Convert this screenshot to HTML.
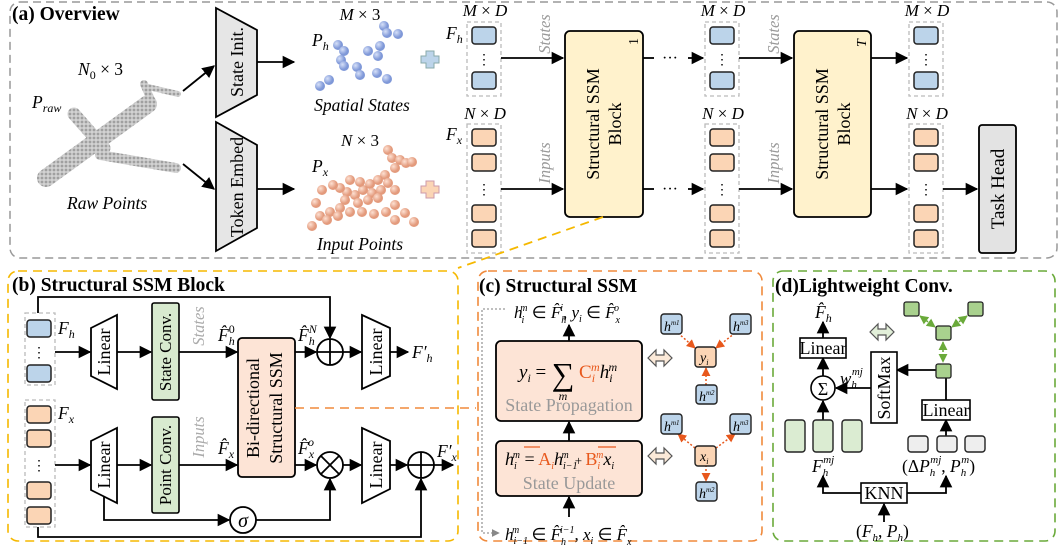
<!DOCTYPE html>
<html><head><meta charset="utf-8"><style>
html,body{margin:0;padding:0;background:#fff;}
svg{display:block;}
text{font-family:"Liberation Serif",serif;}
.i{font-style:italic;}
.b{font-weight:bold;}
</style></head><body>
<svg width="1061" height="547" viewBox="0 0 1061 547" xmlns="http://www.w3.org/2000/svg">
<defs>
<marker id="ar" viewBox="0 0 10 10" refX="9" refY="5" markerWidth="7" markerHeight="7" orient="auto"><path d="M0,0 L10,5 L0,10 z" fill="#000"/></marker>
<marker id="ao" viewBox="0 0 10 10" refX="9" refY="5" markerWidth="6" markerHeight="6" orient="auto-start-reverse"><path d="M0,0 L10,5 L0,10 z" fill="#e8581c"/></marker>
<marker id="ag" viewBox="0 0 10 10" refX="9" refY="5" markerWidth="6" markerHeight="6" orient="auto-start-reverse"><path d="M0,0 L10,5 L0,10 z" fill="#6aaa3a"/></marker>
<marker id="agr" viewBox="0 0 10 10" refX="9" refY="5" markerWidth="6" markerHeight="6" orient="auto"><path d="M0,0 L10,5 L0,10 z" fill="#888"/></marker>
<pattern id="dp" width="4" height="4" patternUnits="userSpaceOnUse"><rect width="4" height="4" fill="#d2d2d2"/><circle cx="2" cy="2" r="1.4" fill="#a0a0a0"/></pattern>
<radialGradient id="bd" cx="0.35" cy="0.35"><stop offset="0" stop-color="#d6e0f8"/><stop offset="1" stop-color="#7f98d8"/></radialGradient>
<radialGradient id="od" cx="0.35" cy="0.35"><stop offset="0" stop-color="#fde0d2"/><stop offset="1" stop-color="#e39a7c"/></radialGradient>
</defs>

<!-- Panel a -->
<rect x="10" y="2" width="1047" height="256" rx="10" fill="none" stroke="#999" stroke-width="1.5" stroke-dasharray="8,5"/>
<text x="12" y="20" font-size="19.5" class="b">(a) Overview</text>

<!-- airplane -->
<g stroke="url(#dp)" stroke-linecap="round" fill="none">
<line x1="46" y1="178" x2="148" y2="104" stroke-width="18"/>
<line x1="74" y1="114" x2="104" y2="148" stroke-width="13"/>
<line x1="100" y1="155" x2="176" y2="168" stroke-width="10"/>
<line x1="144" y1="84" x2="152" y2="102" stroke-width="8"/>
<line x1="148" y1="87" x2="178" y2="94" stroke-width="6"/>
</g>
<text x="78" y="75" font-size="17.5" class="i">N<tspan font-size="12" dy="4" font-style="normal">0</tspan><tspan dy="-4" font-style="normal"> × 3</tspan></text>
<text x="32" y="108" font-size="17.5" class="i">P<tspan font-size="12" dy="4">raw</tspan></text>
<text x="67" y="209" font-size="17.5" class="i">Raw Points</text>
<line x1="183" y1="91" x2="214" y2="66" stroke="#000" stroke-width="1.8" marker-end="url(#ar)"/>
<line x1="183" y1="164" x2="214" y2="189" stroke="#000" stroke-width="1.8" marker-end="url(#ar)"/>

<polygon points="216,8 257,30 257,95 216,117" fill="#e6e6e6" stroke="#000" stroke-width="1.8"/>
<text transform="translate(243,62) rotate(-90)" text-anchor="middle" font-size="18">State Init.</text>
<polygon points="216,122 257,145 257,228 216,251" fill="#e6e6e6" stroke="#000" stroke-width="1.8"/>
<text transform="translate(243,187) rotate(-90)" text-anchor="middle" font-size="18">Token Embed</text>
<line x1="257" y1="62" x2="294" y2="62" stroke="#000" stroke-width="1.8" marker-end="url(#ar)"/>
<line x1="257" y1="189" x2="294" y2="189" stroke="#000" stroke-width="1.8" marker-end="url(#ar)"/>

<!-- blue points -->
<g fill="url(#bd)">
<circle cx="384" cy="26" r="5"/><circle cx="387" cy="33" r="5"/><circle cx="398" cy="34" r="5"/><circle cx="338" cy="45" r="5"/><circle cx="344" cy="51" r="5"/><circle cx="341" cy="60" r="5"/><circle cx="368" cy="51" r="5"/><circle cx="380" cy="46" r="5"/><circle cx="378" cy="56" r="5"/><circle cx="344" cy="66" r="5"/><circle cx="357" cy="67" r="5"/><circle cx="360" cy="75" r="5"/><circle cx="377" cy="73" r="5"/><circle cx="387" cy="79" r="5"/><circle cx="329" cy="80" r="5"/><circle cx="320" cy="86" r="5"/></g>
<text x="360" y="20" font-size="17" text-anchor="middle" class="i">M<tspan font-style="normal"> × 3</tspan></text>
<text x="312" y="46" font-size="17.5" class="i">P<tspan font-size="12" dy="4">h</tspan></text>
<text x="362" y="111" font-size="17.5" text-anchor="middle" class="i">Spatial States</text>
<!-- orange points -->
<g fill="url(#od)">
<circle cx="388" cy="150" r="5"/><circle cx="392" cy="158" r="5"/><circle cx="400" cy="160" r="5"/><circle cx="406" cy="163" r="5"/><circle cx="412" cy="162" r="5"/><circle cx="395" cy="168" r="5"/><circle cx="385" cy="175" r="5"/><circle cx="378" cy="180" r="5"/><circle cx="370" cy="184" r="5"/><circle cx="388" cy="183" r="5"/><circle cx="381" cy="190" r="5"/><circle cx="372" cy="193" r="5"/><circle cx="363" cy="190" r="5"/><circle cx="355" cy="195" r="5"/><circle cx="347" cy="192" r="5"/><circle cx="340" cy="188" r="5"/><circle cx="333" cy="185" r="5"/><circle cx="322" cy="190" r="5"/><circle cx="345" cy="200" r="5"/><circle cx="358" cy="203" r="5"/><circle cx="368" cy="200" r="5"/><circle cx="378" cy="198" r="5"/><circle cx="340" cy="208" r="5"/><circle cx="330" cy="212" r="5"/><circle cx="320" cy="216" r="5"/><circle cx="327" cy="220" r="5"/><circle cx="338" cy="216" r="5"/><circle cx="350" cy="212" r="5"/><circle cx="362" cy="212" r="5"/><circle cx="374" cy="214" r="5"/><circle cx="386" cy="212" r="5"/><circle cx="395" cy="205" r="5"/><circle cx="405" cy="213" r="5"/><circle cx="414" cy="222" r="5"/><circle cx="395" cy="190" r="5"/><circle cx="312" cy="226" r="5"/><circle cx="350" cy="180" r="5"/><circle cx="360" cy="182" r="5"/><circle cx="316" cy="203" r="5"/><circle cx="395" cy="220" r="5"/></g>
<text x="360" y="146" font-size="17" text-anchor="middle" class="i">N<tspan font-style="normal"> × 3</tspan></text>
<text x="312" y="172" font-size="17.5" class="i">P<tspan font-size="12" dy="4">x</tspan></text>
<text x="360" y="250" font-size="17.5" text-anchor="middle" class="i">Input Points</text>
<!-- plus signs -->
<path d="M427,55 h8 v5 h5 v7 h-5 v5 h-8 v-5 h-5 v-7 h5 z" transform="translate(-1,-4)" fill="#bcd4ea" stroke="#8aa" stroke-width="1"/>
<path d="M427,55 h8 v5 h5 v7 h-5 v5 h-8 v-5 h-5 v-7 h5 z" transform="translate(-1,126)" fill="#fbd5b5" stroke="#c9a" stroke-width="1"/>

<!-- columns -->
<g stroke="#bbb" stroke-width="1.3" stroke-dasharray="4,3" fill="none">
<rect x="467" y="22" width="34" height="74"/><rect x="467" y="124" width="34" height="129"/>
<rect x="705" y="22" width="34" height="74"/><rect x="705" y="124" width="34" height="129"/>
<rect x="909" y="22" width="34" height="74"/><rect x="909" y="124" width="34" height="129"/>
</g>
<g stroke="#222" stroke-width="1.5">
<g fill="#bcd4ea">
<rect x="472" y="27" width="24" height="17" rx="3"/><rect x="472" y="72" width="24" height="17" rx="3"/>
<rect x="710" y="27" width="24" height="17" rx="3"/><rect x="710" y="72" width="24" height="17" rx="3"/>
<rect x="914" y="27" width="24" height="17" rx="3"/><rect x="914" y="72" width="24" height="17" rx="3"/>
</g>
<g fill="#fbd5b5">
<rect x="472" y="129" width="24" height="17" rx="3"/><rect x="472" y="154" width="24" height="17" rx="3"/><rect x="472" y="205" width="24" height="17" rx="3"/><rect x="472" y="230" width="24" height="17" rx="3"/>
<rect x="710" y="129" width="24" height="17" rx="3"/><rect x="710" y="154" width="24" height="17" rx="3"/><rect x="710" y="205" width="24" height="17" rx="3"/><rect x="710" y="230" width="24" height="17" rx="3"/>
<rect x="914" y="129" width="24" height="17" rx="3"/><rect x="914" y="154" width="24" height="17" rx="3"/><rect x="914" y="205" width="24" height="17" rx="3"/><rect x="914" y="230" width="24" height="17" rx="3"/>
</g></g>
<g font-size="14" text-anchor="middle">
<text x="484" y="64">⋮</text><text x="484" y="194">⋮</text>
<text x="722" y="64">⋮</text><text x="722" y="194">⋮</text>
<text x="926" y="64">⋮</text><text x="926" y="194">⋮</text>
</g>
<g font-size="17" text-anchor="middle" class="i">
<text x="485" y="16">M<tspan font-style="normal"> × </tspan>D</text><text x="485" y="119">N<tspan font-style="normal"> × </tspan>D</text>
<text x="723" y="16">M<tspan font-style="normal"> × </tspan>D</text><text x="723" y="119">N<tspan font-style="normal"> × </tspan>D</text>
<text x="927" y="16">M<tspan font-style="normal"> × </tspan>D</text><text x="927" y="119">N<tspan font-style="normal"> × </tspan>D</text>
</g>
<text x="446" y="39" font-size="17.5" class="i">F<tspan font-size="12" dy="4">h</tspan></text>
<text x="446" y="140" font-size="17.5" class="i">F<tspan font-size="12" dy="4">x</tspan></text>

<!-- flows -->
<g stroke="#000" stroke-width="1.8">
<line x1="501" y1="58" x2="563" y2="58" marker-end="url(#ar)"/><line x1="501" y1="189" x2="563" y2="189" marker-end="url(#ar)"/>
<line x1="643" y1="58" x2="654" y2="58"/><line x1="643" y1="189" x2="654" y2="189"/>
<line x1="688" y1="58" x2="703" y2="58" marker-end="url(#ar)"/><line x1="688" y1="189" x2="703" y2="189" marker-end="url(#ar)"/>
<line x1="739" y1="58" x2="792" y2="58" marker-end="url(#ar)"/><line x1="739" y1="189" x2="792" y2="189" marker-end="url(#ar)"/>
<line x1="871" y1="58" x2="907" y2="58" marker-end="url(#ar)"/><line x1="871" y1="189" x2="907" y2="189" marker-end="url(#ar)"/>
<line x1="943" y1="189" x2="977" y2="189" marker-end="url(#ar)"/>
</g>
<text x="662" y="63" font-size="16">···</text><text x="662" y="194" font-size="16">···</text>
<g fill="#999" font-size="16.5" class="i" text-anchor="middle">
<text transform="translate(550,34) rotate(-90)">States</text><text transform="translate(550,163) rotate(-90)">Inputs</text>
<text transform="translate(779,34) rotate(-90)">States</text><text transform="translate(779,163) rotate(-90)">Inputs</text>
</g>
<rect x="565" y="31" width="78" height="186" rx="5" fill="#fff2cc" stroke="#000" stroke-width="1.8"/>
<text transform="translate(608,124) rotate(-90)" text-anchor="middle" font-size="18"><tspan x="0" y="-9">Structural SSM</tspan><tspan x="0" y="13">Block</tspan></text>
<text transform="translate(638,45) rotate(-90)" font-size="14">1</text>
<rect x="794" y="31" width="77" height="186" rx="5" fill="#fff2cc" stroke="#000" stroke-width="1.8"/>
<text transform="translate(837,124) rotate(-90)" text-anchor="middle" font-size="18"><tspan x="0" y="-9">Structural SSM</tspan><tspan x="0" y="13">Block</tspan></text>
<text transform="translate(866,47) rotate(-90)" font-size="14" class="i">T</text>
<rect x="979" y="125" width="37" height="128" rx="3" fill="#e3e3e3" stroke="#000" stroke-width="1.8"/>
<text transform="translate(1004,189) rotate(-90)" text-anchor="middle" font-size="19">Task Head</text>
<line x1="603" y1="217" x2="458" y2="268" stroke="#f5b800" stroke-width="1.8" stroke-dasharray="9,6"/>

<!-- Panel b -->
<rect x="8" y="271" width="450" height="270" rx="10" fill="none" stroke="#f5b800" stroke-width="1.6" stroke-dasharray="9,6"/>
<text x="12" y="291" font-size="19.5" class="b">(b) Structural SSM Block</text>
<g stroke="#bbb" stroke-width="1.3" stroke-dasharray="4,3" fill="none">
<rect x="25" y="313" width="30" height="72"/><rect x="25" y="400" width="30" height="127"/></g>
<g stroke="#222" stroke-width="1.5">
<rect x="27" y="320" width="24" height="17" rx="3" fill="#bcd4ea"/><rect x="27" y="365" width="24" height="17" rx="3" fill="#bcd4ea"/>
<g fill="#fbd5b5"><rect x="27" y="406" width="24" height="17" rx="3"/><rect x="27" y="430" width="24" height="17" rx="3"/><rect x="27" y="482" width="24" height="17" rx="3"/><rect x="27" y="507" width="24" height="17" rx="3"/></g></g>
<text x="39" y="357" font-size="14" text-anchor="middle">⋮</text><text x="39" y="470" font-size="14" text-anchor="middle">⋮</text>
<text x="58" y="334" font-size="17.5" class="i">F<tspan font-size="12" dy="4">h</tspan></text>
<text x="58" y="419" font-size="17.5" class="i">F<tspan font-size="12" dy="4">x</tspan></text>

<g stroke="#000" stroke-width="1.8" fill="none">
<polyline points="38,313 38,297 330,297 330,338" marker-end="url(#ar)"/>
<line x1="55" y1="352" x2="90" y2="352" marker-end="url(#ar)"/>
<line x1="117" y1="352" x2="151" y2="352" marker-end="url(#ar)"/>
<line x1="179" y1="352" x2="237" y2="352" marker-end="url(#ar)"/>
<line x1="295" y1="352" x2="316" y2="352" marker-end="url(#ar)"/>
<line x1="343" y1="352" x2="361" y2="352" marker-end="url(#ar)"/>
<line x1="390" y1="352" x2="408" y2="352" marker-end="url(#ar)"/>
<line x1="55" y1="465" x2="90" y2="465" marker-end="url(#ar)"/>
<line x1="117" y1="465" x2="151" y2="465" marker-end="url(#ar)"/>
<line x1="179" y1="465" x2="237" y2="465" marker-end="url(#ar)"/>
<line x1="295" y1="465" x2="316" y2="465" marker-end="url(#ar)"/>
<line x1="343" y1="465" x2="361" y2="465" marker-end="url(#ar)"/>
<line x1="390" y1="465" x2="407" y2="465" marker-end="url(#ar)"/>
<line x1="434" y1="465" x2="453" y2="465" marker-end="url(#ar)"/>
<polyline points="104,495 104,520 229,520" marker-end="url(#ar)"/>
<polyline points="256,520 330,520 330,479" marker-end="url(#ar)"/>
<polyline points="38,527 38,537 421,537 421,479" marker-end="url(#ar)"/>
</g>
<g stroke="#000" stroke-width="1.8" fill="#fff">
<polygon points="91,328 117,315 117,389 91,376"/><polygon points="91,441 117,428 117,503 91,490"/>
<polygon points="362,315 390,328 390,376 362,389"/><polygon points="362,428 390,441 390,489 362,503"/>
<circle cx="330" cy="352" r="13"/><circle cx="330" cy="465" r="13"/><circle cx="421" cy="465" r="13"/><circle cx="243" cy="520" r="13"/>
</g>
<g stroke="#000" stroke-width="1.8">
<line x1="317" y1="352" x2="343" y2="352"/><line x1="330" y1="339" x2="330" y2="365"/>
<line x1="408" y1="465" x2="434" y2="465"/><line x1="421" y1="452" x2="421" y2="478"/>
<line x1="321" y1="456" x2="339" y2="474"/><line x1="339" y1="456" x2="321" y2="474"/>
</g>
<text x="243" y="527" font-size="20" text-anchor="middle" class="i">σ</text>
<g font-size="18" text-anchor="middle">
<text transform="translate(110,352) rotate(-90)">Linear</text><text transform="translate(110,465) rotate(-90)">Linear</text>
<text transform="translate(382,352) rotate(-90)">Linear</text><text transform="translate(382,465) rotate(-90)">Linear</text>
</g>
<rect x="152" y="303" width="27" height="97" rx="2" fill="#d8eacf" stroke="#000" stroke-width="1.6"/>
<text transform="translate(171,352) rotate(-90)" text-anchor="middle" font-size="17">State Conv.</text>
<rect x="152" y="417" width="27" height="96" rx="2" fill="#d8eacf" stroke="#000" stroke-width="1.6"/>
<text transform="translate(171,465) rotate(-90)" text-anchor="middle" font-size="17">Point Conv.</text>
<text transform="translate(204,326) rotate(-90)" text-anchor="middle" font-size="16.5" class="i" fill="#aaa">States</text>
<text transform="translate(204,437) rotate(-90)" text-anchor="middle" font-size="16.5" class="i" fill="#aaa">Inputs</text>
<rect x="238" y="338" width="57" height="139" rx="4" fill="#fde4d6" stroke="#000" stroke-width="1.8"/>
<text transform="translate(266,408) rotate(-90)" text-anchor="middle" font-size="18"><tspan x="0" y="-7">Bi-directional</tspan><tspan x="0" y="16">Structural SSM</tspan></text>
<line x1="295" y1="408" x2="476" y2="408" stroke="#f08a3c" stroke-width="1.6" stroke-dasharray="9,6"/>
<g font-size="17.5" class="i">
<text x="218" y="341">F̂<tspan font-size="12" dy="4">h</tspan><tspan font-size="12" dx="-6" dy="-12" font-style="normal">0</tspan></text>
<text x="298" y="341">F̂<tspan font-size="12" dy="4">h</tspan><tspan font-size="12" dx="-6" dy="-12">N</tspan></text>
<text x="412" y="358">F′<tspan font-size="12" dy="4">h</tspan></text>
<text x="218" y="454">F̂<tspan font-size="12" dy="4">x</tspan></text>
<text x="298" y="454">F̂<tspan font-size="12" dy="4">x</tspan><tspan font-size="12" dx="-6" dy="-12">o</tspan></text>
<text x="437" y="457">F′<tspan font-size="12" dy="4">x</tspan></text>
</g>

<!-- Panel c -->
<rect x="478" y="271" width="284" height="270" rx="10" fill="none" stroke="#f08a3c" stroke-width="1.6" stroke-dasharray="9,6"/>
<text x="479" y="292" font-size="19.5" class="b">(c) Structural SSM</text>
<polyline points="505,309 482,309 482,533 499,533" fill="none" stroke="#999" stroke-width="1.3" stroke-dasharray="2,2" marker-end="url(#agr)"/>
<text x="514" y="318" font-size="17" class="i">h<tspan font-size="10" dx="-1" dy="5">i</tspan><tspan font-size="10" dx="-4" dy="-12">m</tspan><tspan font-style="normal" dy="7"> ∈ </tspan>F̂<tspan font-size="10" dy="5">h</tspan><tspan font-size="10" dx="-6" dy="-12">i</tspan><tspan dy="7" font-style="normal">, </tspan>y<tspan font-size="10" dy="4">i</tspan><tspan font-style="normal" dy="-4"> ∈ </tspan>F̂<tspan font-size="10" dy="5">x</tspan><tspan font-size="10" dx="-6" dy="-12">o</tspan></text>
<g stroke="#000" stroke-width="1.8">
<line x1="569" y1="341" x2="569" y2="325" marker-end="url(#ar)"/>
<line x1="569" y1="441" x2="569" y2="422" marker-end="url(#ar)"/>
<line x1="569" y1="517" x2="569" y2="497" marker-end="url(#ar)"/>
</g>
<rect x="496" y="341" width="146" height="80" rx="5" fill="#fde4d6" stroke="#000" stroke-width="1.8"/>
<text x="519" y="378" font-size="19" class="i">y<tspan font-size="12" dy="4">i</tspan><tspan font-style="normal" dy="-4"> = </tspan></text>
<text x="563" y="385" font-size="32" text-anchor="middle">∑</text>
<text x="563" y="400" font-size="12" text-anchor="middle" class="i">m</text>
<text x="579" y="378" font-size="19" class="i"><tspan fill="#e8581c" font-style="normal">C</tspan><tspan font-size="12" dy="4" fill="#e8581c">i</tspan><tspan font-size="12" dx="-4" dy="-11" fill="#e8581c">m</tspan><tspan dy="7">h</tspan><tspan font-size="12" dy="4">i</tspan><tspan font-size="12" dx="-4" dy="-11">m</tspan></text>
<text x="569" y="411" font-size="18" fill="#999" text-anchor="middle">State Propagation</text>
<rect x="496" y="441" width="146" height="55" rx="5" fill="#fde4d6" stroke="#000" stroke-width="1.8"/>
<text x="505" y="465" font-size="18" class="i">h<tspan font-size="10" dy="4">i</tspan><tspan font-size="10" dx="-4" dy="-11">m</tspan><tspan font-style="normal" dy="7"> = </tspan><tspan fill="#e8581c" font-style="normal">A</tspan><tspan font-size="10" fill="#e8581c" dy="4">i</tspan><tspan dy="-4">h</tspan><tspan font-size="10" dy="4">i−1</tspan><tspan font-size="10" dx="-16" dy="-11">m</tspan><tspan dx="6" dy="7" font-size="13" font-style="normal">+ </tspan><tspan fill="#e8581c" font-style="normal">B</tspan><tspan font-size="10" fill="#e8581c" dy="4">i</tspan><tspan font-size="10" fill="#e8581c" dx="-4" dy="-11">m</tspan><tspan dy="7">x</tspan><tspan font-size="10" dy="4">i</tspan></text>
<line x1="524" y1="447" x2="540" y2="447" stroke="#e8581c" stroke-width="1.2"/>
<line x1="598" y1="447" x2="616" y2="447" stroke="#e8581c" stroke-width="1.2"/>
<text x="569" y="489" font-size="18" fill="#999" text-anchor="middle">State Update</text>
<text x="505" y="540" font-size="17" class="i">h<tspan font-size="10" dy="4">i−1</tspan><tspan font-size="10" dx="-16" dy="-11">m</tspan><tspan font-style="normal" dx="8" dy="7"> ∈ </tspan>F̂<tspan font-size="10" dy="5">h</tspan><tspan font-size="10" dx="-6" dy="-12">i−1</tspan><tspan dy="7" font-style="normal">, </tspan>x<tspan font-size="10" dy="4">i</tspan><tspan font-style="normal" dy="-4"> ∈ </tspan>F̂<tspan font-size="10" dy="5">x</tspan></text>
<!-- double arrows -->
<g fill="#fbe9d8" stroke="#555" stroke-width="1.2">
<path d="M648,358 l8,-8 v5 h8 v-5 l8,8 l-8,8 v-5 h-8 v5 z"/>
<path d="M648,456 l8,-8 v5 h8 v-5 l8,8 l-8,8 v-5 h-8 v5 z"/>
<path d="M870,332 l8,-8 v5 h8 v-5 l8,8 l-8,8 v-5 h-8 v5 z" fill="#e2efd9"/>
</g>
<!-- graphs c -->
<g stroke="#e8581c" stroke-width="1.5" stroke-dasharray="2,2" fill="none">
<line x1="678" y1="333" x2="695" y2="348" marker-end="url(#ao)"/>
<line x1="735" y1="333" x2="716" y2="348" marker-end="url(#ao)"/>
<line x1="706" y1="385" x2="706" y2="368" marker-end="url(#ao)"/>
<line x1="695" y1="448" x2="678" y2="434" marker-end="url(#ao)"/>
<line x1="716" y1="448" x2="735" y2="434" marker-end="url(#ao)"/>
<line x1="706" y1="465" x2="706" y2="481" marker-end="url(#ao)"/>
</g>
<g stroke="#222" stroke-width="1.4">
<g fill="#bcd4ea">
<rect x="661" y="314" width="21" height="20" rx="3"/><rect x="730" y="314" width="21" height="20" rx="3"/><rect x="696" y="385" width="21" height="19" rx="3"/>
<rect x="661" y="414" width="21" height="20" rx="3"/><rect x="730" y="414" width="21" height="20" rx="3"/><rect x="696" y="482" width="21" height="19" rx="3"/>
</g>
<rect x="695" y="347" width="21" height="20" rx="3" fill="#fbd5b5"/><rect x="695" y="446" width="21" height="20" rx="3" fill="#fbd5b5"/>
</g>
<g font-size="14" class="i">
<text x="664" y="331">h<tspan font-size="7" dy="-6">m1</tspan></text><text x="733" y="331">h<tspan font-size="7" dy="-6">m3</tspan></text><text x="699" y="401">h<tspan font-size="7" dy="-6">m2</tspan></text>
<text x="664" y="431">h<tspan font-size="7" dy="-6">m1</tspan></text><text x="733" y="431">h<tspan font-size="7" dy="-6">m3</tspan></text><text x="699" y="498">h<tspan font-size="7" dy="-6">m2</tspan></text>
<text x="700" y="362">y<tspan font-size="8" dy="3">i</tspan></text><text x="700" y="461">x<tspan font-size="8" dy="3">i</tspan></text>
</g>

<!-- Panel d -->
<rect x="773" y="271" width="282" height="270" rx="10" fill="none" stroke="#6aaa3a" stroke-width="1.6" stroke-dasharray="9,6"/>
<text x="775" y="292" font-size="19.5" class="b">(d)Lightweight Conv.</text>
<text x="815" y="318" font-size="17.5" class="i">F̂<tspan font-size="12" dy="4">h</tspan></text>
<g stroke="#000" stroke-width="1.8" fill="none">
<line x1="823" y1="338" x2="823" y2="322" marker-end="url(#ar)"/>
<line x1="823" y1="376" x2="823" y2="358" marker-end="url(#ar)"/>
<line x1="823" y1="420" x2="823" y2="401" marker-end="url(#ar)"/>
<line x1="871" y1="388" x2="836" y2="388" marker-end="url(#ar)"/>
<polyline points="946,400 946,370 897,370" marker-end="url(#ar)"/>
<line x1="946" y1="436" x2="946" y2="420" marker-end="url(#ar)"/>
<polyline points="861,493 823,493 823,476" marker-end="url(#ar)"/>
<polyline points="907,493 946,493 946,476" marker-end="url(#ar)"/>
<line x1="884" y1="522" x2="884" y2="504" marker-end="url(#ar)"/>
</g>
<g stroke="#000" stroke-width="1.6" fill="#fff">
<rect x="800" y="338" width="46" height="20"/>
<circle cx="823" cy="388" r="12"/>
<rect x="871" y="352" width="26" height="71"/>
<rect x="922" y="400" width="48" height="20"/>
<rect x="861" y="483" width="46" height="20"/>
</g>
<text x="823" y="354" font-size="18" text-anchor="middle">Linear</text>
<text x="946" y="416" font-size="18" text-anchor="middle">Linear</text>
<text x="884" y="499" font-size="18" text-anchor="middle">KNN</text>
<text x="823" y="395" font-size="18" text-anchor="middle">Σ</text>
<text transform="translate(890,388) rotate(-90)" text-anchor="middle" font-size="18">SoftMax</text>
<text x="840" y="384" font-size="17" class="i">w<tspan font-size="11" dy="4">h</tspan><tspan font-size="11" dx="-5" dy="-13">mj</tspan></text>
<g stroke="#222" stroke-width="1.4">
<g fill="#dbecd2"><rect x="785" y="420" width="20" height="32" rx="3"/><rect x="813" y="420" width="20" height="32" rx="3"/><rect x="842" y="420" width="20" height="32" rx="3"/></g>
<g fill="#eee"><rect x="908" y="436" width="20" height="16" rx="3"/><rect x="937" y="436" width="20" height="16" rx="3"/><rect x="965" y="436" width="20" height="16" rx="3"/></g>
</g>
<text x="812" y="472" font-size="17.5" class="i">F<tspan font-size="11" dy="4">h</tspan><tspan font-size="11" dx="-5" dy="-13">mj</tspan></text>
<text x="902" y="472" font-size="17.5" class="i"><tspan font-style="normal">(Δ</tspan>P<tspan font-size="11" dy="4">h</tspan><tspan font-size="11" dx="-5" dy="-13">mj</tspan><tspan font-style="normal" dy="9">, </tspan>P<tspan font-size="11" dy="4">h</tspan><tspan font-size="11" dx="-5" dy="-13">m</tspan><tspan font-style="normal" dy="9">)</tspan></text>
<text x="856" y="537" font-size="17.5" class="i"><tspan font-style="normal">(</tspan>F<tspan font-size="11" dy="4">h</tspan><tspan dy="-4" font-style="normal">, </tspan>P<tspan font-size="11" dy="4">h</tspan><tspan dy="-4" font-style="normal">)</tspan></text>
<!-- green graph -->
<g stroke="#6aaa3a" stroke-width="1.5" stroke-dasharray="2,2" fill="none">
<line x1="920" y1="316" x2="935" y2="327" marker-start="url(#ag)" marker-end="url(#ag)"/>
<line x1="967" y1="316" x2="952" y2="327" marker-start="url(#ag)" marker-end="url(#ag)"/>
<line x1="943" y1="342" x2="943" y2="362" marker-start="url(#ag)" marker-end="url(#ag)"/>
</g>
<g fill="#a9d18e" stroke="#222" stroke-width="1.3">
<rect x="904" y="302" width="15" height="14" rx="2"/><rect x="968" y="302" width="15" height="14" rx="2"/>
<rect x="936" y="326" width="15" height="14" rx="2"/><rect x="936" y="364" width="15" height="14" rx="2"/>
</g>
</svg>
</body></html>
